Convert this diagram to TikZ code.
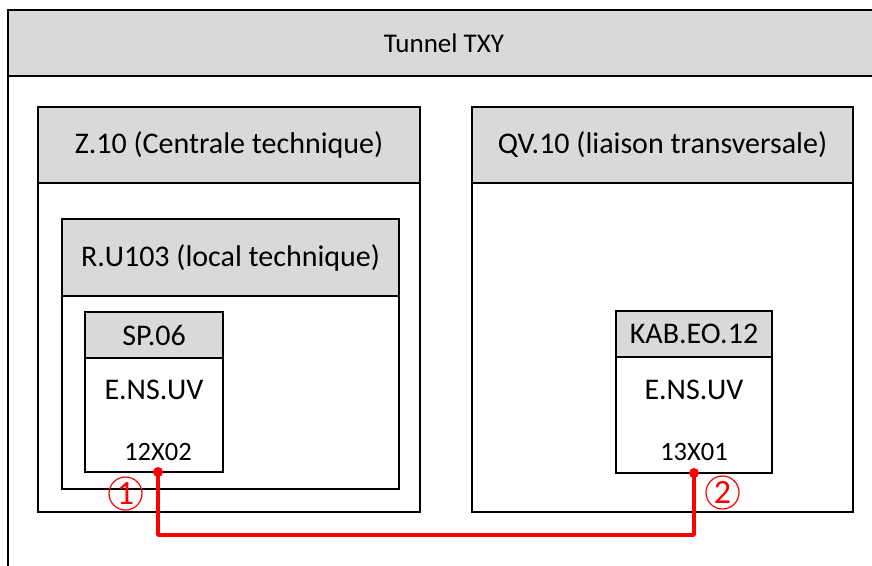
\documentclass[tikz,border=0pt]{standalone}
\usepackage{fontspec}
\setmainfont{Carlito}
\usetikzlibrary{positioning}
\definecolor{hdrgray}{HTML}{D9D9D9}
\definecolor{cablered}{HTML}{FF0000}
\tikzset{
  box/.style={draw, line width=1.5pt, inner sep=0pt, outer sep=0pt},
  hdr/.style={box, fill=hdrgray, font=\fontsize{30}{33}\selectfont},
  body/.style={box, fill=white},
  lbl/.style={inner sep=0pt, font=\fontsize{30}{33}\selectfont},
  portlbl/.style={inner sep=0pt, font=\fontsize{26.5}{30}\selectfont},
  port/.style={circle, fill=cablered, inner sep=0pt, minimum size=10pt},
  num/.style={circle, draw=cablered, text=cablered, line width=1.2pt, inner sep=0pt,
    minimum size=33pt, font=\fontsize{34}{36}\selectfont},
  cable/.style={draw=cablered, line width=3.5pt, line join=round}
}
\begin{document}
\begin{tikzpicture}[x=1pt,y=-1pt]
	\useasboundingbox[fill=white] (0,0) rectangle (872,565);
	\clip (0,0) rectangle (872,565);
	% tunnel
	\node(tunhdr) [hdr, minimum width=872pt, minimum height=66pt, font=\fontsize{27}{30}\selectfont] at (444,43) {Tunnel TXY};
	\node(tunbody) [body, minimum width=872pt, minimum height=520pt, below=0pt of tunhdr] {};
	% Z.10
	\node(zhdr) [hdr, minimum width=382pt, minimum height=76pt] at (229,145) {Z.10 (Centrale technique)};
	\node(zbody) [body, minimum width=382pt, minimum height=329pt, below=0pt of zhdr] {};
	% QV.10
	\node(qhdr) [hdr, minimum width=381pt, minimum height=76pt] at (662.5,145) {QV.10 (liaison transversale)};
	\node(qbody) [body, minimum width=381pt, minimum height=329pt, below=0pt of qhdr] {};
	% R.U103
	\node(rhdr) [hdr, minimum width=337pt, minimum height=77pt] at (230.5,257.5) {R.U103 (local technique)};
	\node(rbody) [body, minimum width=337pt, minimum height=193pt, below=0pt of rhdr] {};
	% SP.06
	\node(sphdr) [hdr, minimum width=138pt, minimum height=46pt] at (154,335) {SP.06};
	\node(spbody) [body, minimum width=138pt, minimum height=114pt, below=0pt of sphdr] {};
	\node(spdev) [lbl] at (154,390) {E.NS.UV};
	\node(spcon) [portlbl] at (158,452) {12X02};
	% KAB.EO.12
	\node(kabhdr) [hdr, minimum width=156pt, minimum height=46pt] at (694,334) {KAB.EO.12};
	\node(kabbody) [body, minimum width=156pt, minimum height=116pt, below=0pt of kabhdr] {};
	\node(kabdev) [lbl] at (694,390) {E.NS.UV};
	\node(kabcon) [portlbl] at (694,452) {13X01};
	% cable
	\node(p1) [port] at (158,472) {};
	\node(p2) [port] at (694,473) {};
	\coordinate(bend) at (158,535);
	\draw[cable] (p1.center) -- (bend) -| (p2.center);
	\node(n1) [num] at (125.5,493.5) {1};
	\node(n2) [num] at (722.5,492.5) {2};
\end{tikzpicture}
\end{document}
